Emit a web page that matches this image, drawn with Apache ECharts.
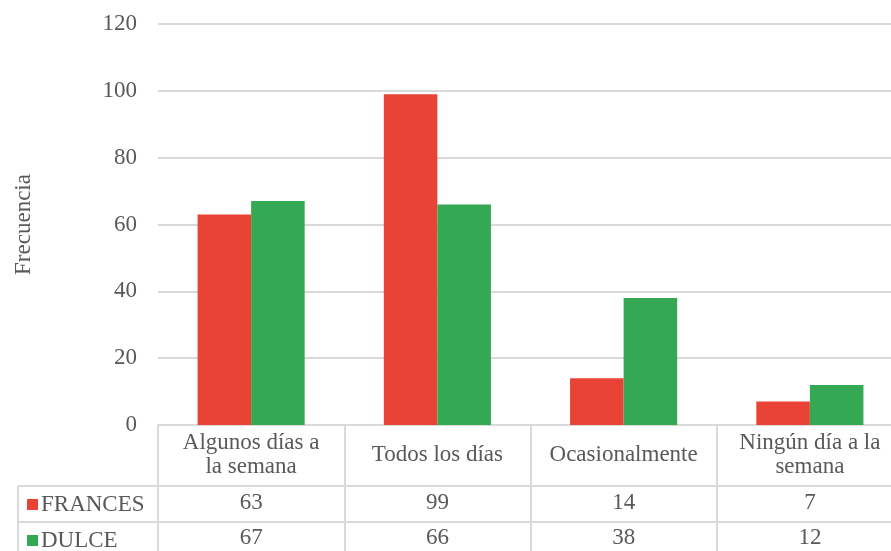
<!DOCTYPE html>
<html>
<head>
<meta charset="utf-8">
<script src="https://cdn.jsdelivr.net/npm/echarts@6/dist/echarts.min.js"></script>
<style>
  html, body { margin: 0; padding: 0; background: #fff; overflow: hidden; }
  /* el gráfico es algo más ancho que la ventana: la última columna queda cortada */
  #main { width: 903px; height: 551px; }
</style>
</head>
<body>
<div id="main"></div>
<script>
// datos
let categories = ['Algunos días a\nla semana', 'Todos los días', 'Ocasionalmente', 'Ningún día a la\nsemana'];
let seriesNames = ['FRANCES', 'DULCE'];
let frances = [63, 99, 14, 7];
let dulce = [67, 66, 38, 12];
let yTicks = [0, 20, 40, 60, 80, 100, 120];

let font = 'Liberation Serif, Times New Roman, serif';
let fs = 23;
let gray = '#595959';
let lineCol = '#d9d9d9';
let red = '#E94335';
let green = '#34A853';

let gLeft = 158, gTop = 24, gRight = 0, gBottom = 126;

let chart = echarts.init(document.getElementById('main'), null, {renderer: 'canvas'});

function legendFor(name, top) {
    return {
        data: [name],
        left: 22,
        top: top,
        icon: 'rect',
        itemWidth: 11,
        itemHeight: 11,
        itemGap: 0,
        textStyle: {fontFamily: font, fontSize: fs, color: gray, padding: [0, 0, 0, -2]}
    };
}

let option = {
    animation: false,
    textStyle: {fontFamily: font},
    grid: {left: gLeft, top: gTop, right: gRight, bottom: gBottom, containLabel: false},
    legend: [legendFor(seriesNames[0], 488), legendFor(seriesNames[1], 524)],
    xAxis: [{
        type: 'category',
        data: categories,
        axisLine: {show: true, lineStyle: {color: lineCol, width: 2}},
        axisTick: {show: true, inside: false, length: gBottom, lineStyle: {color: lineCol, width: 2}},
        axisLabel: {
            fontFamily: font, fontSize: fs, color: gray, lineHeight: 24,
            verticalAlign: 'middle', margin: 30, interval: 0
        },
        splitLine: {show: false}
    }, {
        type: 'category',
        position: 'bottom',
        data: frances.map(String),
        axisLine: {show: false},
        axisTick: {show: false},
        axisLabel: {fontFamily: font, fontSize: fs, color: gray, verticalAlign: 'middle', margin: 78, interval: 0}
    }, {
        type: 'category',
        position: 'bottom',
        data: dulce.map(String),
        axisLine: {show: false},
        axisTick: {show: false},
        axisLabel: {fontFamily: font, fontSize: fs, color: gray, verticalAlign: 'middle', margin: 113, interval: 0}
    }],
    yAxis: {
        type: 'value',
        min: yTicks[0],
        max: yTicks[yTicks.length - 1],
        interval: 20,
        name: 'Frecuencia',
        nameLocation: 'middle',
        nameGap: 123,
        nameRotate: 90,
        nameTextStyle: {fontFamily: font, fontSize: fs, color: gray},
        axisLine: {show: false},
        axisTick: {show: false},
        axisLabel: {fontFamily: font, fontSize: fs, color: gray, margin: 21},
        splitLine: {show: true, lineStyle: {color: lineCol, width: 2}}
    },
    series: [{
        name: seriesNames[0],
        type: 'bar',
        data: frances,
        itemStyle: {color: red},
        barGap: '0%',
        barCategoryGap: '42.5%'
    }, {
        name: seriesNames[1],
        type: 'bar',
        data: dulce,
        itemStyle: {color: green},
        barGap: '0%',
        barCategoryGap: '42.5%'
    }],
    graphic: [
        // líneas de la tabla de datos
        {type: 'line', shape: {x1: 18, y1: 486, x2: 903, y2: 486}, style: {stroke: lineCol, lineWidth: 2}, silent: true},
        {type: 'line', shape: {x1: 18, y1: 522, x2: 903, y2: 522}, style: {stroke: lineCol, lineWidth: 2}, silent: true},
        {type: 'line', shape: {x1: 18, y1: 486, x2: 18, y2: 551}, style: {stroke: lineCol, lineWidth: 2}, silent: true}
    ]
};

chart.setOption(option);
</script>
</body>
</html>
